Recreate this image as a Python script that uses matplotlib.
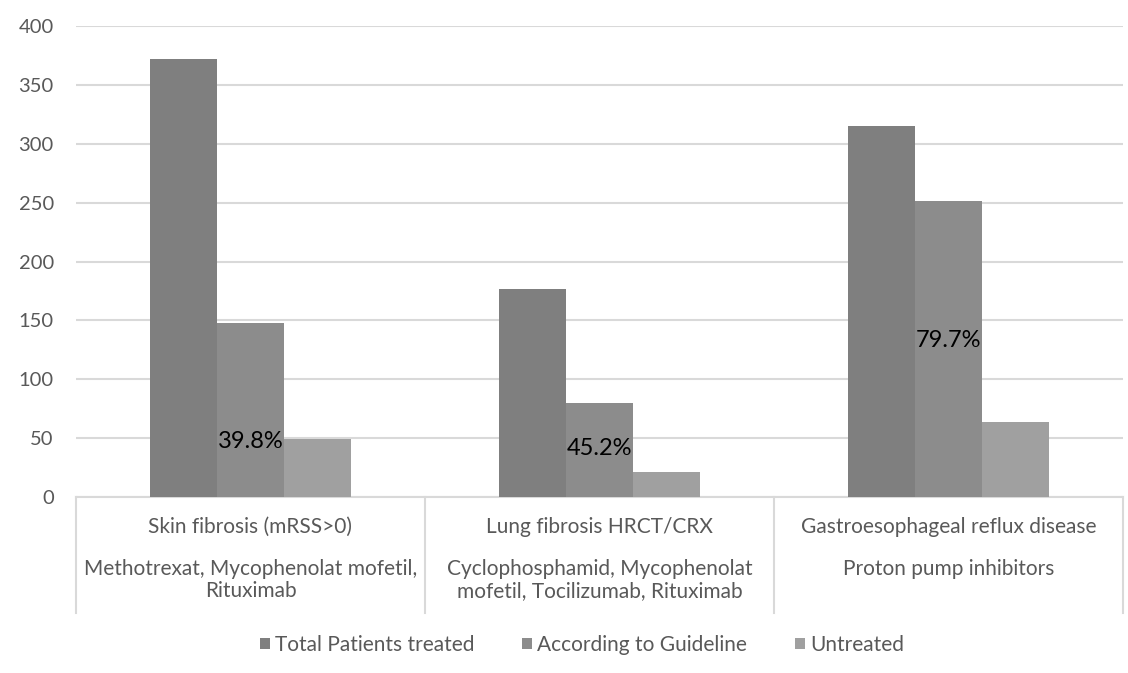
import matplotlib
matplotlib.use("Agg")
import matplotlib.pyplot as plt
import matplotlib.transforms as mtransforms
from matplotlib.patches import Patch
import numpy as np

plt.rcParams['font.family'] = ['Lato', 'DejaVu Sans']

categories = ["Skin fibrosis (mRSS>0)", "Lung fibrosis HRCT/CRX", "Gastroesophageal reflux disease"]
therapies = ["Methotrexat, Mycophenolat mofetil,\nRituximab",
             "Cyclophosphamid, Mycophenolat\nmofetil, Tocilizumab, Rituximab",
             "Proton pump inhibitors"]
series_names = ["Total Patients treated", "According to Guideline", "Untreated"]
total = [372, 177, 315]
guideline = [148, 80, 251]
untreated = [49, 21, 64]
pct_label_y = [47, 41, 133]

colors = ["#7f7f7f", "#8c8c8c", "#a0a0a0"]
text_col = "#595959"
grid_col = "#d9d9d9"

fig = plt.figure(figsize=(11.28, 6.73), dpi=100)
ax = fig.add_axes([76/1128, 1 - 497/673, (1123 - 76)/1128, (497 - 26)/673])

x = np.arange(len(categories))
w = 0.192
for i, vals in enumerate([total, guideline, untreated]):
    ax.bar(x + (i - 1) * w, vals, w, color=colors[i], zorder=3, label=series_names[i])

# share of treated patients handled according to the guideline
for xi, t, g, ly in zip(x, total, guideline, pct_label_y):
    ax.text(xi, ly, f"{100 * g / t:.1f}%", ha='center', va='center',
            fontsize=17, color='black', zorder=4)

ax.set_xlim(-0.5, 2.5)
ax.set_ylim(0, 400)
ax.set_yticks(np.arange(0, 401, 50))
ax.yaxis.grid(True, color=grid_col, linewidth=1.5, zorder=0)
ax.tick_params(axis='y', length=0, pad=16, labelsize=14.5, labelcolor=text_col)
ax.set_xticks([])
for s in ['top', 'right', 'left']:
    ax.spines[s].set_visible(False)
ax.spines['bottom'].set_color(grid_col)
ax.spines['bottom'].set_linewidth(1.5)

# category axis: boxed two-level labels
trans = mtransforms.blended_transform_factory(ax.transData, ax.transAxes)
px = lambda p: -(p - 497) / 471
for xs in np.arange(-0.5, 3.0, 1.0):
    ax.plot([xs, xs], [0, px(613)], transform=trans, color=grid_col,
            linewidth=1.5, clip_on=False)
for xi, cat, th in zip(x, categories, therapies):
    ax.text(xi, px(527), cat, transform=trans, ha='center', va='center',
            fontsize=15, color=text_col)
    for k, line in enumerate(th.split("\n")):
        ax.text(xi, px(569 + 22 * k), line, transform=trans, ha='center', va='center',
                fontsize=15, color=text_col)

handles = [Patch(facecolor=c, edgecolor='none') for c in colors]
fig.legend(handles, series_names, loc='center', bbox_to_anchor=(582/1128, 1 - 645/673),
           ncol=3, frameon=False, fontsize=15, handlelength=0.47, handleheight=0.47,
           handletextpad=0.25, columnspacing=2.3, labelcolor=text_col)

fig.savefig("out.png", dpi=100, facecolor='white')
